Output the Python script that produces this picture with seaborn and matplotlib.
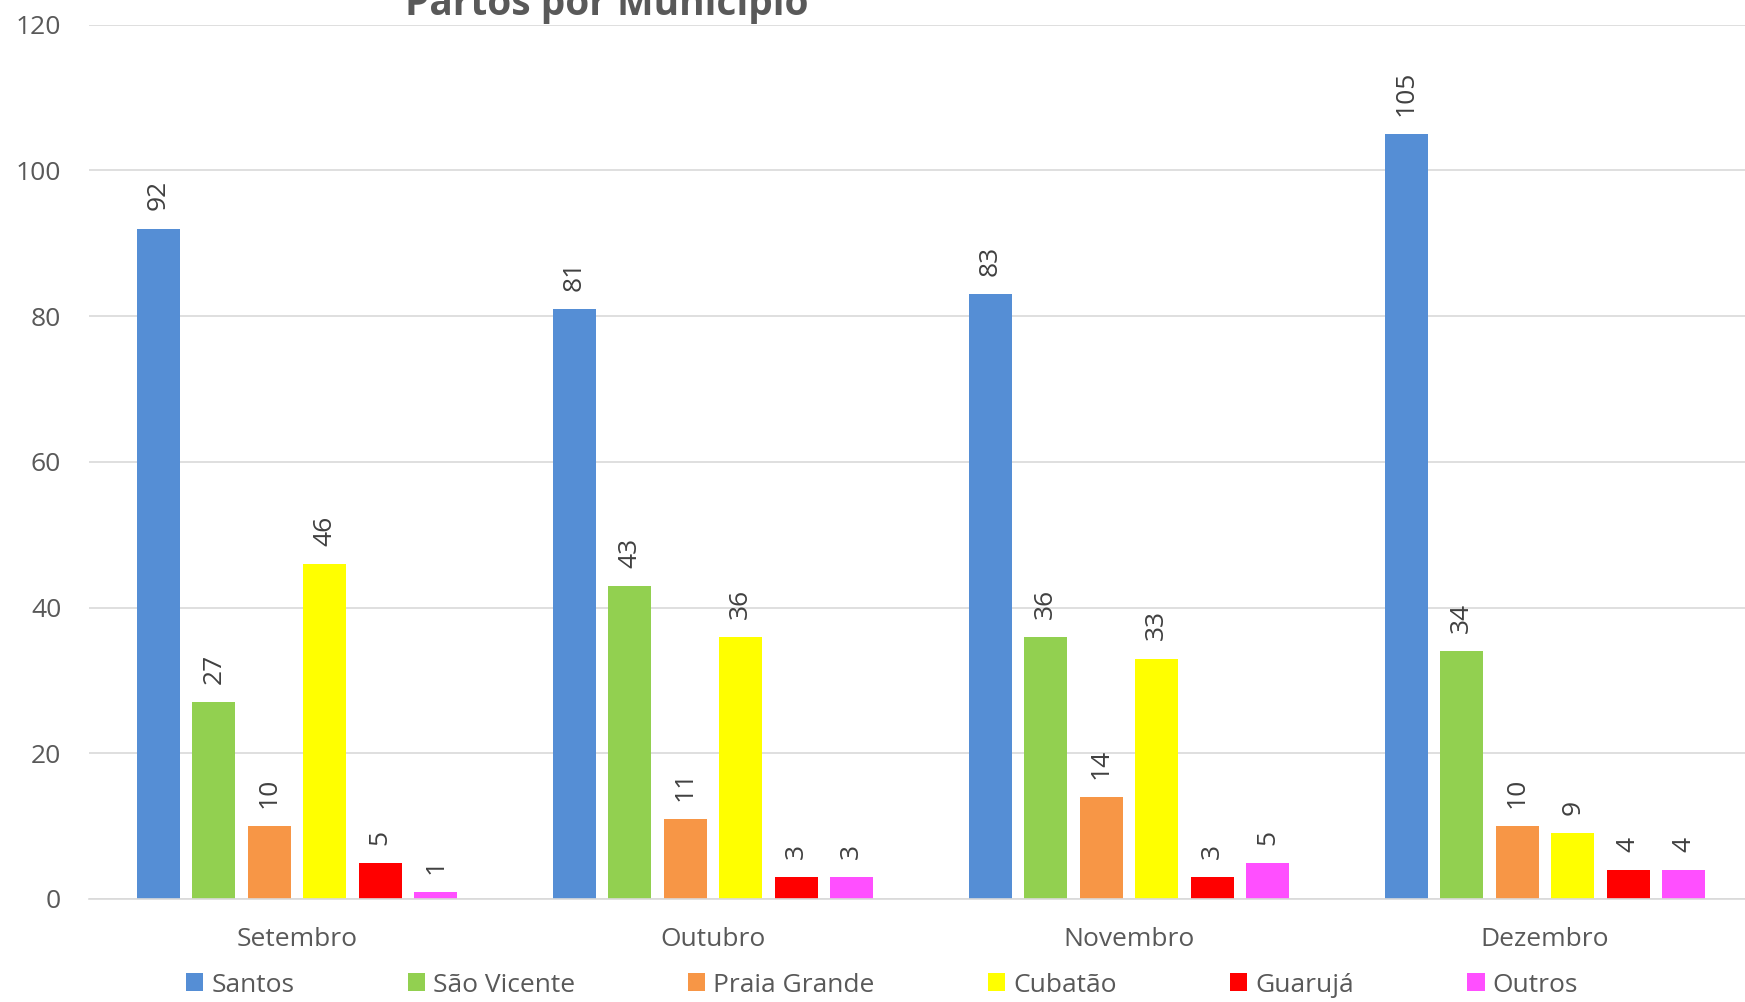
import pandas as pd
import matplotlib
matplotlib.use("Agg")
import matplotlib.pyplot as plt
import seaborn as sns

meses = ["Setembro", "Outubro", "Novembro", "Dezembro"]
municipios = ["Santos", "São Vicente", "Praia Grande", "Cubatão", "Guarujá", "Outros"]
santos = [92, 81, 83, 105]
sao_vicente = [27, 43, 36, 34]
praia_grande = [10, 11, 14, 10]
cubatao = [46, 36, 33, 9]
guaruja = [5, 3, 3, 4]
outros = [1, 3, 5, 4]
cores = ["#558ED5", "#92D050", "#F79646", "#FFFF00", "#FF0000", "#FF4FFF"]

valores = [santos, sao_vicente, praia_grande, cubatao, guaruja, outros]
rows = []
for mun, vals in zip(municipios, valores):
    for mes, v in zip(meses, vals):
        rows.append({"mes": mes, "municipio": mun, "partos": v})
df = pd.DataFrame(rows)

sns.set_style("white")
plt.rcParams["font.family"] = ["Open Sans", "DejaVu Sans"]

W, H = 1745, 1002
fig = plt.figure(figsize=(W / 100, H / 100), dpi=100)
left, right, top, bottom = 89, 1753, 24.5, 899
ax = fig.add_axes([left / W, (H - bottom) / H, (right - left) / W, (bottom - top) / H])

sns.barplot(data=df, x="mes", y="partos", hue="municipio", hue_order=municipios,
            order=meses, palette=cores, width=0.8, gap=0.22, saturation=1,
            edgecolor="none", ax=ax)

texto = "#404040"
for cont in ax.containers:
    ax.bar_label(cont, padding=13, rotation=90, fontsize=19, color=texto)

ax.set_ylim(0, 120)
ax.set_xlim(-0.5, 3.5)
ax.set_yticks(range(0, 121, 20))
ax.yaxis.grid(True, color="#D9D9D9", linewidth=1.2)
ax.set_axisbelow(True)
ax.set_xlabel("")
ax.set_ylabel("")
for s in ["top", "right", "left"]:
    ax.spines[s].set_visible(False)
ax.spines["bottom"].set_color("#D9D9D9")
ax.spines["bottom"].set_linewidth(1.2)
ax.tick_params(axis="y", length=0, labelsize=19, labelcolor="#595959", pad=20)
ax.tick_params(axis="x", length=0, labelsize=19, labelcolor="#595959", pad=20)
ax.set_xticks([-0.5, 0.5, 1.5, 2.5, 3.5], minor=True)
ax.tick_params(axis="x", which="minor", length=10, color="#D9D9D9", width=1.2, direction="out")

ax.legend(loc="center", bbox_to_anchor=(882 / W, (H - 985) / H), bbox_transform=fig.transFigure,
          ncol=6, frameon=False, fontsize=19, handlelength=0.65, handleheight=0.65,
          handletextpad=0.3, columnspacing=4.3, labelcolor="#595959")

fig.text(607 / W, 1.0 - 15 / H, "Partos por Município", ha="center", va="baseline",
         fontsize=28, fontweight="bold", color="#595959")

fig.savefig("out.png", dpi=100)
